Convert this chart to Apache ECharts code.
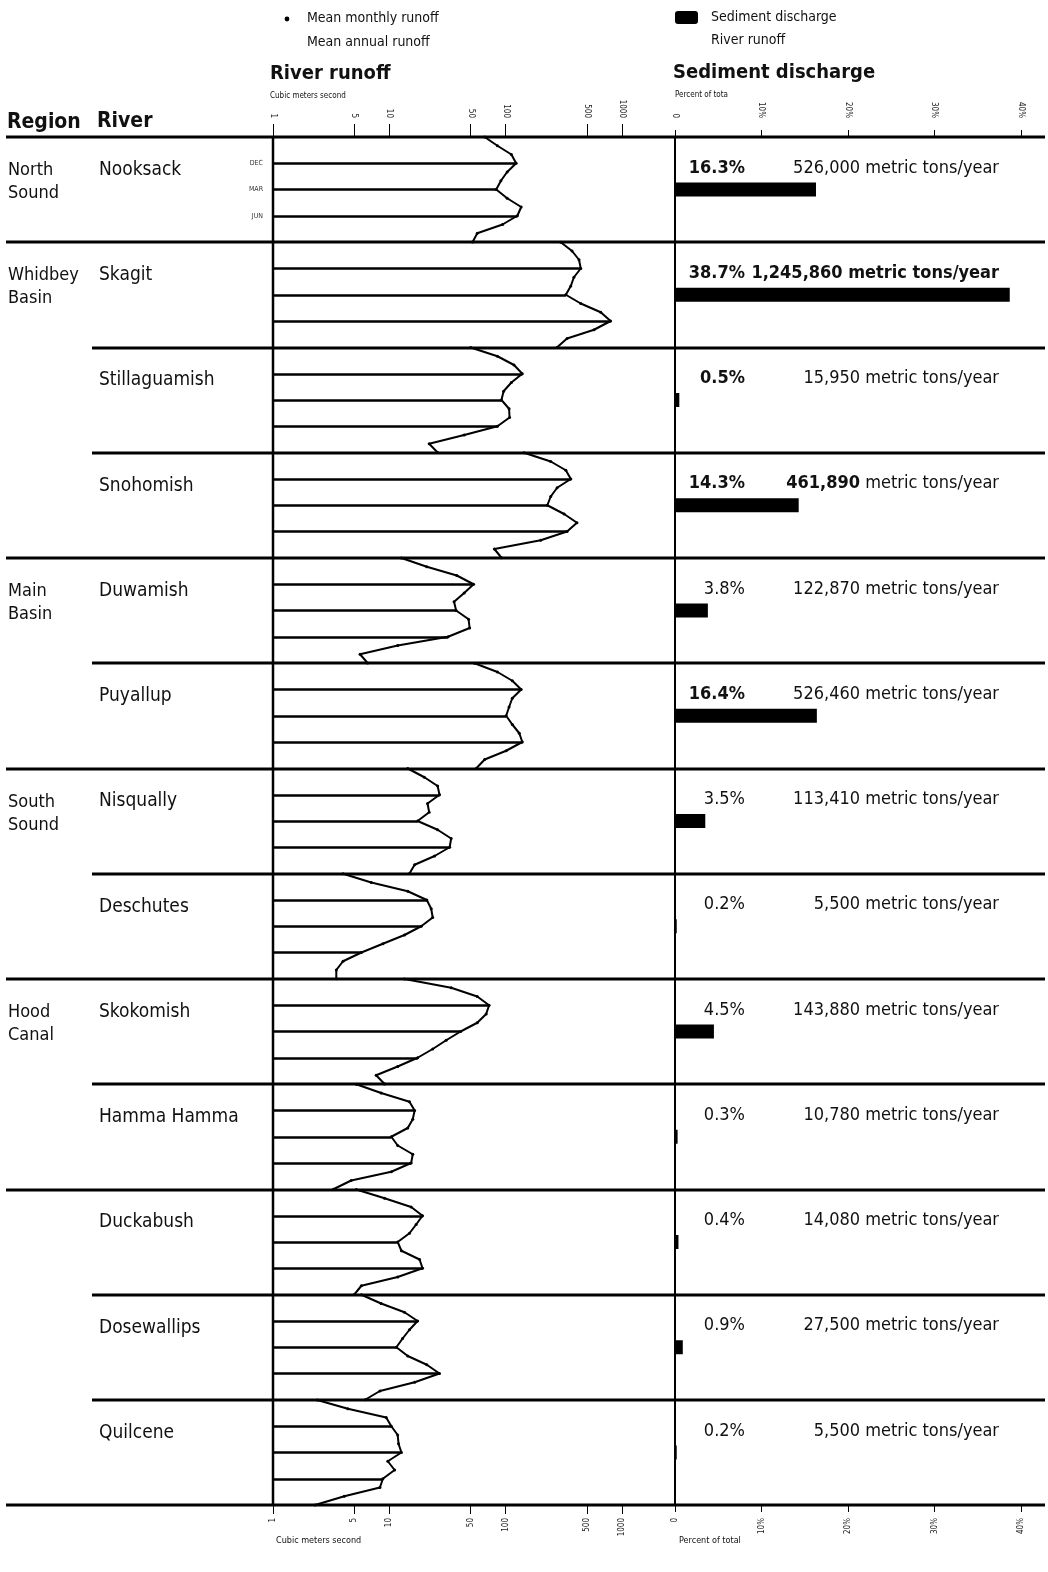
<!DOCTYPE html>
<html>
<head>
<meta charset="utf-8">
<script src="https://cdn.jsdelivr.net/npm/echarts@6/dist/echarts.min.js"></script>
<style>
  html, body { margin: 0; background: #fff; }
  #chart { width: 1048px; height: 1572px; }
</style>
</head>
<body>
<div id="chart"></div>
<script>
// rivers, top to bottom
const rivers = ['Nooksack', 'Skagit', 'Stillaguamish', 'Snohomish', 'Duwamish', 'Puyallup',
  'Nisqually', 'Deschutes', 'Skokomish', 'Hamma Hamma', 'Duckabush', 'Dosewallips', 'Quilcene'];
const regionLabels = ['North\nSound', 'Whidbey\nBasin', 'Main\nBasin', 'South\nSound', 'Hood\nCanal'];
const regionFirstRiver = [0, 1, 4, 6, 8];

// mean monthly runoff, m3/s (panel top -> bottom)
const months = ['SEP', 'OCT', 'NOV', 'DEC', 'JAN', 'FEB', 'MAR', 'APR', 'MAY', 'JUN', 'JUL', 'AUG', 'SEP'];
const nooksack = [66, 85, 112, 123, 103, 91, 83, 103, 136, 126, 94, 57, 52];
const skagit = [298, 372, 427, 442, 386, 363, 329, 442, 656, 798, 575, 337, 277];
const stillaguamish = [50, 85, 118, 139, 112, 96, 92, 107, 108, 85, 44, 22, 26];
const snohomish = [144, 244, 329, 363, 277, 244, 228, 318, 410, 337, 200, 80, 92];
const duwamish = [12.7, 21, 38, 53, 44, 36, 37.5, 48, 49, 32, 11.8, 5.6, 6.5];
const puyallup = [54, 85, 114, 136, 114, 107, 101, 114, 131, 139, 101, 66, 56];
const nisqually = [14.4, 20, 26, 27, 21.3, 22, 17.5, 26, 34, 33, 24.5, 16.5, 14.9];
const deschutes = [4, 7, 14.4, 21, 22.9, 23.6, 18.8, 13.5, 8.8, 5.75, 4, 3.5, 3.5];
const skokomish = [13.5, 34, 57, 72, 68, 57, 41, 30.8, 23.6, 17.5, 11.8, 7.7, 9.1];
const hammaHamma = [5.2, 8.5, 14.9, 16.5, 15.9, 14.4, 10.4, 11.8, 15.9, 15.4, 10.4, 4.7, 3.3];
const duckabush = [5.2, 9.1, 15.4, 19.3, 17, 14.9, 11.8, 12.7, 18.2, 19.3, 11.8, 5.75, 5.0];
const dosewallips = [5.75, 8.5, 13.5, 17.5, 14.9, 13, 11.5, 14.4, 21, 27, 16.5, 8.3, 6.2];
const quilcene = [2.4, 4.4, 9.4, 10.4, 11.8, 12, 12.7, 9.7, 11.1, 8.8, 8.3, 4.1, 2.3];
const runoff = [nooksack, skagit, stillaguamish, snohomish, duwamish, puyallup,
  nisqually, deschutes, skokomish, hammaHamma, duckabush, dosewallips, quilcene];
const markedMonths = [3, 6, 9]; // DEC, MAR, JUN

// sediment discharge
const sedimentPct = [16.3, 38.7, 0.5, 14.3, 3.8, 16.4, 3.5, 0.2, 4.5, 0.3, 0.4, 0.9, 0.2];
const sedimentTons = ['526,000', '1,245,860', '15,950', '461,890', '122,870', '526,460',
  '113,410', '5,500', '143,880', '10,780', '14,080', '27,500', '5,500'];
const boldPct = [0, 1, 2, 3, 5];

const runoffTicks = [1, 5, 10, 50, 100, 500, 1000];

const FONT = '"Liberation Sans Narrow", "DejaVu Sans Condensed", "Liberation Sans", sans-serif';
const N = rivers.length;
const panelTop = i => 137 + i * 105.25;
const panelH = 105;

const grid = [], xAxis = [], yAxis = [], series = [], graphic = [];

for (let i = 0; i < N; i++) {
  const edge = i === 0 || i === N - 1;
  const last = i === N - 1;
  grid.push({ left: 273, width: 349, top: panelTop(i), height: panelH });
  xAxis.push({
    type: 'log', logBase: 10, min: 1, max: 1000, gridIndex: i,
    position: last ? 'bottom' : 'top',
    axisLine: { show: false }, splitLine: { show: false },
    axisTick: { show: edge, length: last ? 9 : 13, customValues: runoffTicks, lineStyle: { color: '#000', width: 1 } },
    axisLabel: {
      show: edge, customValues: runoffTicks, rotate: 90, fontSize: 8, margin: last ? 13 : 19,
      color: '#222', fontFamily: FONT, formatter: v => String(v)
    }
  });
  yAxis.push({
    type: 'category', gridIndex: i, data: months, inverse: true, boundaryGap: false,
    axisLine: { show: false }, axisTick: { show: false }, splitLine: { show: false },
    axisLabel: {
      show: i === 0, fontSize: 7, margin: 10, color: '#333', fontFamily: FONT,
      interval: idx => markedMonths.includes(idx)
    }
  });
  series.push({
    type: 'line', xAxisIndex: i, yAxisIndex: i, data: runoff[i],
    symbol: 'circle', symbolSize: 3, showAllSymbol: true,
    lineStyle: { color: '#000', width: 2 }, itemStyle: { color: '#000' }, z: 3
  });
  series.push({
    type: 'lines', coordinateSystem: 'cartesian2d', xAxisIndex: i, yAxisIndex: i,
    data: markedMonths.map(k => ({ coords: [[1, k], [runoff[i][k], k]] })),
    lineStyle: { color: '#000', width: 2.5, opacity: 1 }, z: 2
  });
}

for (let i = 0; i < N; i++) {
  const edge = i === 0 || i === N - 1;
  const last = i === N - 1;
  grid.push({ left: 675, width: 346, top: panelTop(i), height: panelH });
  xAxis.push({
    type: 'value', min: 0, max: 40, interval: 10, gridIndex: N + i,
    position: last ? 'bottom' : 'top',
    axisLine: { show: false }, splitLine: { show: false },
    axisTick: { show: edge, length: 7, lineStyle: { color: '#000' } },
    axisLabel: {
      show: edge, rotate: 90, fontSize: 8, margin: last ? 13 : 19, color: '#222', fontFamily: FONT,
      formatter: v => (v === 0 ? '0' : v + '%')
    }
  });
  yAxis.push({ type: 'category', gridIndex: N + i, data: [rivers[i]], show: false });
  series.push({
    type: 'bar', xAxisIndex: N + i, yAxisIndex: N + i, data: [sedimentPct[i]],
    barWidth: 14, itemStyle: { color: '#000' }
  });
}

// separators
const fullRows = [0, 1, 4, 6, 8, 10, 13];
for (let i = 0; i <= N; i++) {
  const y = Math.round(panelTop(i));
  graphic.push({
    type: 'line', silent: true,
    shape: { x1: fullRows.includes(i) ? 6 : 92, y1: y, x2: 1045, y2: y },
    style: { stroke: '#000', lineWidth: 3 }
  });
}
graphic.push({ type: 'line', shape: { x1: 273, y1: 136, x2: 273, y2: 1506 }, style: { stroke: '#000', lineWidth: 2.5 } });
graphic.push({ type: 'line', shape: { x1: 675, y1: 136, x2: 675, y2: 1506 }, style: { stroke: '#000', lineWidth: 2 } });

const txt = (x, y, text, size, opts = {}) => graphic.push({
  type: 'text', x, y, silent: true,
  style: Object.assign({
    text, fill: '#111', fontSize: size, fontFamily: FONT,
    align: 'left', verticalAlign: 'middle'
  }, opts)
});

// legend + headers
graphic.push({ type: 'circle', shape: { cx: 287, cy: 19, r: 2.4 }, style: { fill: '#000' } });
txt(307, 18, 'Mean monthly runoff', 14);
txt(307, 42, 'Mean annual runoff', 14);
graphic.push({ type: 'rect', shape: { x: 675, y: 11, width: 23, height: 13, r: 3 }, style: { fill: '#000' } });
txt(711, 17, 'Sediment discharge', 14);
txt(711, 40, 'River runoff', 14);
txt(270, 74, 'River runoff', 20, { fontWeight: 'bold' });
txt(270, 96, 'Cubic meters second', 8);
txt(673, 73, 'Sediment discharge', 20, { fontWeight: 'bold' });
txt(675, 95, 'Percent of tota', 8);
txt(7, 123, 'Region', 21, { fontWeight: 'bold' });
txt(97, 122, 'River', 21, { fontWeight: 'bold' });
txt(276, 1541, 'Cubic meters second', 9);
txt(679, 1541, 'Percent of total', 9);

regionLabels.forEach((r, j) => {
  txt(8, panelTop(regionFirstRiver[j]) + 33, r, 18, { verticalAlign: 'top', lineHeight: 23, y: -11 });
});

for (let i = 0; i < N; i++) {
  const t = panelTop(i);
  txt(99, t + 33, rivers[i], 19);
  txt(745, t + 31, sedimentPct[i].toFixed(1) + '%', 18,
    { align: 'right', fontWeight: boldPct.includes(i) ? 'bold' : 'normal' });
  const numBold = i === 1 || i === 3;
  graphic.push({
    type: 'text', x: 999, y: t + 31, silent: true,
    style: {
      text: '{a|' + sedimentTons[i] + '}{b| metric tons/year}',
      align: 'right', verticalAlign: 'middle',
      rich: {
        a: { fontSize: 18, fontFamily: FONT, fill: '#111', fontWeight: numBold ? 'bold' : 'normal' },
        b: { fontSize: 18, fontFamily: FONT, fill: '#111', fontWeight: i === 1 ? 'bold' : 'normal' }
      }
    }
  });
}

const chart = echarts.init(document.getElementById('chart'));
chart.setOption({
  animation: false,
  backgroundColor: '#fff',
  textStyle: { fontFamily: FONT },
  grid, xAxis, yAxis, series, graphic
});
</script>
</body>
</html>
